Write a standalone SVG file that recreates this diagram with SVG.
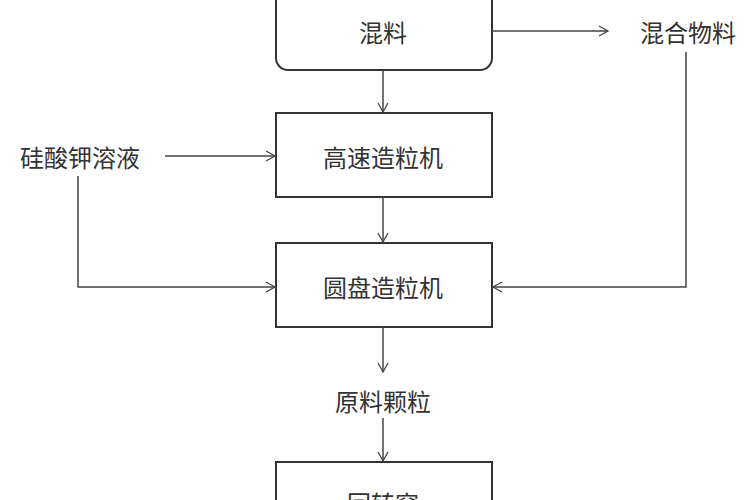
<svg xmlns="http://www.w3.org/2000/svg" width="750" height="500" viewBox="0 0 750 500">
<defs><marker id="a" markerWidth="12" markerHeight="12" refX="10" refY="6" orient="auto" markerUnits="userSpaceOnUse"><path d="M1,1 L10,6 L1,11" fill="none" stroke="#444" stroke-width="1.3"/></marker></defs>
<style>.b{fill:#fff;stroke:#333;stroke-width:2}.t{font-family:"Noto Sans CJK SC",sans-serif;font-size:24px;fill:#333;text-anchor:middle;dominant-baseline:central}.c{fill:none;stroke:#444;stroke-width:1.5;marker-end:url(#a)}</style>
<rect width="750" height="500" fill="#fff"/>
<g id="n1"><rect class="b" x="276" y="-20" width="216" height="90" rx="12"/><text class="t" x="383" y="31">混料</text></g>
<g id="n2"><text class="t" x="688" y="31">混合物料</text></g>
<g id="n3"><rect class="b" x="276" y="113" width="216" height="84"/><text class="t" x="383" y="156">高速造粒机</text></g>
<g id="n4"><text class="t" x="80" y="156">硅酸钾溶液</text></g>
<g id="n5"><rect class="b" x="276" y="243" width="216" height="84"/><text class="t" x="383" y="286">圆盘造粒机</text></g>
<g id="n6"><text class="t" x="383" y="400">原料颗粒</text></g>
<g id="n7"><rect class="b" x="276" y="462" width="216" height="60"/><text class="t" x="383" y="502">回转窑</text></g>
<g id="edges">
<path class="c" d="M383,70 V112"/>
<path class="c" d="M492,31 H608"/>
<path class="c" d="M686,52 V287 H493"/>
<path class="c" d="M165,156 H275"/>
<path class="c" d="M78,176 V287 H275"/>
<path class="c" d="M383,197 V242"/>
<path class="c" d="M383,327 V372"/>
<path class="c" d="M383,418 V461"/>
</g>
</svg>
